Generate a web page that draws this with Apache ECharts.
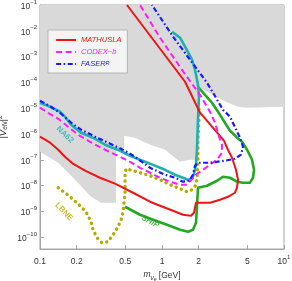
<!DOCTYPE html>
<html><head><meta charset="utf-8">
<script src="https://cdn.jsdelivr.net/npm/echarts@6/dist/echarts.min.js"></script>
<style>html,body{margin:0;padding:0;background:#fff}#c{width:292px;height:281px}</style>
</head><body><div id="c"></div>
<script>
const massTicks = [0.1, 0.2, 0.5, 1, 2, 5, 10];
const couplingTicks = [1e-10, 1e-9, 1e-8, 1e-7, 1e-6, 1e-5, 1e-4, 1e-3, 1e-2, 1e-1];

const excludedRegion = [
  [0.1, 0.1], [10, 0.1], [10, 1.14e-5], [4.98, 1.05e-5], [4.2, 1.14e-5], [3.47, 1.63e-5],
  [2.88, 2.55e-5], [2.05, 6.2e-5], [1.97, 3.3e-5], [1.94, 1.0e-7], [1.7, 1.0e-7],
  [1.4, 8.4e-8], [1.06, 2.46e-7], [0.8, 3.85e-7], [0.6, 7.2e-7], [0.49, 8.6e-7],
  [0.49, 2.94e-7], [0.42, 2.46e-7], [0.42, 2.17e-9], [0.316, 2.17e-9], [0.262, 3.7e-9],
  [0.194, 1.69e-8], [0.141, 7.7e-8], [0.11, 1.58e-7], [0.1, 2.06e-7]
];

const mathusla = [
  [0.1, 7.9e-7], [0.121, 4.6e-7], [0.141, 2.46e-7], [0.16, 1.32e-7], [0.186, 7.1e-8],
  [0.234, 3.8e-8], [0.31, 2.02e-8], [0.412, 1.19e-8], [0.578, 5.3e-9], [0.798, 2.38e-9],
  [0.963, 1.66e-9], [1.232, 1.06e-9], [1.486, 7.45e-10], [1.729, 6.8e-10], [1.829, 8.9e-10],
  [1.899, 2.17e-9], [1.972, 2.38e-9], [2.473, 2.17e-9], [2.99, 2.84e-9], [3.47, 3.7e-9],
  [3.96, 5.3e-9], [4.12, 8.3e-9], [4.2, 1.69e-8], [4.04, 4.1e-8], [3.75, 1.21e-7],
  [3.47, 2.46e-7], [3.22, 5.5e-7], [2.05, 6.7e-6], [1.545, 1.06e-4], [0.516, 0.1]
];

const codexb = [
  [0.1, 1.05e-5], [0.116, 6.7e-6], [0.141, 3.9e-6], [0.17, 1.92e-6], [0.205, 9.4e-7],
  [0.257, 5.0e-7], [0.341, 2.46e-7], [0.435, 1.44e-7], [0.547, 8.4e-8], [0.66, 4.9e-8],
  [0.798, 3.16e-8], [0.963, 2.02e-8], [1.164, 1.42e-8], [1.405, 1.08e-8], [1.603, 1.08e-8],
  [1.795, 2.02e-8], [1.935, 2.89e-8], [2.167, 4.1e-8], [2.473, 6.5e-8], [2.825, 1.01e-7],
  [3.1, 1.88e-7], [3.1, 3.85e-7], [2.934, 7.9e-7], [2.72, 2.74e-6], [2.473, 7.3e-6],
  [2.047, 3.3e-5], [1.513, 2.38e-4], [0.963, 5.4e-3], [0.66, 0.1]
];

const faser = [
  [0.1, 1.95e-5], [0.123, 1.14e-5], [0.149, 6.1e-6], [0.18, 2.74e-6], [0.217, 1.47e-6],
  [0.282, 7.9e-7], [0.361, 4.6e-7], [0.461, 2.69e-7], [0.601, 1.32e-7], [0.798, 4.9e-8],
  [1.058, 2.64e-8], [1.279, 2.02e-8], [1.486, 1.42e-8], [1.664, 1.55e-8], [1.795, 2.64e-8],
  [1.864, 5.9e-8], [1.972, 7.7e-8], [2.473, 7.7e-8], [3.28, 9.2e-8], [3.96, 1.1e-7],
  [4.44, 1.58e-7], [4.61, 3.22e-7], [4.36, 7.2e-7], [3.61, 4.7e-6], [3.16, 8.7e-6],
  [2.618, 4.0e-5], [2.338, 9.7e-5], [1.697, 7.6e-4], [1.232, 5.9e-3], [0.828, 0.1]
];

const na62 = [
  [0.1, 1.63e-5], [0.121, 1.14e-5], [0.146, 7.3e-6], [0.16, 4.7e-6], [0.18, 2.29e-6],
  [0.217, 1.12e-6], [0.282, 6.6e-7], [0.341, 3.85e-7], [0.453, 2.25e-7], [0.547, 1.44e-7],
  [0.66, 1.0e-7], [0.798, 7.1e-8], [1.058, 4.1e-8], [1.279, 2.64e-8], [1.486, 2.02e-8],
  [1.633, 1.69e-8], [1.762, 1.85e-8], [1.829, 2.89e-8], [1.899, 6.5e-8], [1.935, 2.46e-7],
  [1.972, 3.6e-6], [2.009, 2.79e-5], [1.972, 8.1e-5], [1.864, 3.1e-4], [1.762, 7.6e-4],
  [1.545, 2.42e-3], [1.405, 5.4e-3], [1.208, 9.2e-3]
];

const lbne = [
  [0.141, 8.3e-9], [0.16, 5.3e-9], [0.18, 3.4e-9], [0.213, 1.66e-9], [0.238, 9.7e-10],
  [0.262, 4.0e-10], [0.272, 1.95e-10], [0.293, 9.6e-11], [0.322, 6.1e-11], [0.361, 6.7e-11],
  [0.397, 1.25e-10], [0.435, 2.55e-10], [0.461, 4.4e-10], [0.479, 9.7e-10], [0.488, 2.17e-9],
  [0.498, 5.3e-9], [0.498, 1.3e-8], [0.498, 2.64e-8], [0.507, 4.5e-8], [0.578, 3.8e-8],
  [0.66, 3.16e-8], [0.798, 2.42e-8], [0.963, 1.69e-8], [1.164, 1.08e-8], [1.405, 7.6e-9],
  [1.603, 5.8e-9], [1.762, 6.9e-9], [1.864, 9.1e-9], [1.935, 1.69e-8], [1.972, 1.01e-7],
  [1.972, 6.0e-7], [2.009, 3.6e-6], [2.009, 1.14e-5]
];

const ship = [
  [1.972, 6.8e-5], [2.25, 3.3e-5], [2.569, 1.63e-5], [2.879, 7.3e-6], [3.16, 3.6e-6],
  [3.61, 1.34e-6], [4.12, 7.2e-7], [4.53, 5.0e-7], [4.98, 2.46e-7], [5.47, 1.01e-7],
  [5.68, 4.1e-8], [5.57, 2.02e-8], [5.26, 1.3e-8], [4.61, 1.3e-8], [4.12, 1.42e-8],
  [3.61, 2.02e-8], [3.16, 2.21e-8], [2.825, 1.55e-8], [2.338, 9.9e-9], [1.972, 8.3e-9],
  [1.935, 1.52e-9], [1.899, 3.65e-10], [1.795, 1.95e-10], [1.633, 1.63e-10], [1.405, 1.95e-10],
  [1.099, 3.05e-10], [0.844, 4.8e-10], [0.66, 7.45e-10], [0.498, 1.52e-9]
];

const curveLabels = [
  { text: 'NA62', at: [0.16, 9.4e-7], rotate: -43, color: '#1fb0b0', italic: false },
  { text: 'LBNE', at: [0.157, 9.7e-10], rotate: -46, color: '#b3ab00', italic: false },
  { text: 'SHiP', at: [0.8, 4.0e-10], rotate: -28, color: '#22a822', italic: true }
];

const FONT = 'Liberation Sans';
const C = {
  red: '#f01414', magenta: '#ff1aff', blue: '#1a1aff', teal: '#1fb0b0',
  olive: '#b3ab00', green: '#22a822', gray: '#d9d9d9', frame: '#a6a6a6'
};

function supExp(v) {
  const e = Math.round(Math.log10(v));
  return '{b|10}{s|' + (e < 0 ? '\u2212' + (-e) : e) + '}';
}

const hiddenSymbol = { color: 'rgba(0,0,0,0)', borderColor: 'rgba(0,0,0,0)', borderWidth: 0, opacity: 0 };

const chart = echarts.init(document.getElementById('c'), null, { renderer: 'canvas' });
chart.setOption({
  animation: false,
  backgroundColor: '#ffffff',
  grid: {
    left: 40, right: 8, top: 5, bottom: 32, show: true, borderColor: C.frame, borderWidth: 1,
    containLabel: false, outerBoundsMode: 'none'
  },
  xAxis: {
    type: 'log', logBase: 10, min: 0.1, max: 10,
    axisLine: { show: true, lineStyle: { color: C.frame, width: 1 } },
    axisTick: { show: true, inside: true, length: 4, lineStyle: { color: C.frame }, customValues: massTicks },
    splitLine: { show: false },
    axisLabel: {
      customValues: massTicks, margin: 5, color: '#333', fontFamily: FONT, fontSize: 8.5,
      formatter: function (v) {
        const r = +(+v).toPrecision(6);
        return r >= 9.99 ? '{b|10}{s|1}' : '{b|' + r + '}';
      },
      rich: {
        b: { fontFamily: FONT, fontSize: 8.5, lineHeight: 12, verticalAlign: 'bottom', color: '#333' },
        s: { fontFamily: FONT, fontSize: 6, lineHeight: 7, verticalAlign: 'top', color: '#333' }
      }
    },
    name: '{i|m}{sub|\u03bd}{ss|e} [GeV]', nameLocation: 'middle', nameGap: 21, nameMoveOverlap: false,
    nameTextStyle: {
      color: '#333', fontFamily: FONT, fontSize: 8.5,
      rich: {
        i: { fontFamily: FONT, fontSize: 8.5, fontStyle: 'italic', color: '#333', lineHeight: 12, verticalAlign: 'top' },
        sub: { fontFamily: FONT, fontSize: 6.5, fontStyle: 'italic', color: '#333', lineHeight: 8, verticalAlign: 'bottom' },
        ss: { fontFamily: FONT, fontSize: 5, fontStyle: 'italic', color: '#333', lineHeight: 6, verticalAlign: 'bottom' }
      }
    }
  },
  yAxis: {
    type: 'log', logBase: 10, min: 3.5e-11, max: 0.1,
    axisLine: { show: true, lineStyle: { color: C.frame, width: 1 } },
    axisTick: { show: true, inside: true, length: 4, lineStyle: { color: C.frame }, customValues: couplingTicks },
    splitLine: { show: false },
    axisLabel: {
      customValues: couplingTicks, margin: 3, color: '#333', fontFamily: FONT, fontSize: 8.5,
      formatter: supExp,
      rich: {
        b: { fontFamily: FONT, fontSize: 8.5, lineHeight: 12, verticalAlign: 'bottom', color: '#333' },
        s: { fontFamily: FONT, fontSize: 6, lineHeight: 7, verticalAlign: 'top', color: '#333' }
      }
    },
    name: '{n||}{i|V}{sub|eN}{n||}{sup|2}', nameLocation: 'middle', nameRotate: 90, nameGap: 31,
    nameMoveOverlap: false,
    nameTextStyle: {
      color: '#333', fontFamily: FONT, fontSize: 9.5,
      rich: {
        n: { fontFamily: FONT, fontSize: 9.5, color: '#333', lineHeight: 12, verticalAlign: 'middle' },
        i: { fontFamily: FONT, fontSize: 9.5, fontStyle: 'italic', color: '#333', lineHeight: 12, verticalAlign: 'middle' },
        sub: { fontFamily: FONT, fontSize: 6.5, fontStyle: 'italic', color: '#333', lineHeight: 8, verticalAlign: 'bottom' },
        sup: { fontFamily: FONT, fontSize: 6.5, color: '#333', lineHeight: 8, verticalAlign: 'top' }
      }
    }
  },
  legend: {
    left: 48, top: 30, orient: 'vertical',
    backgroundColor: '#f4f4f4', borderColor: '#b5b5b5', borderWidth: 1,
    padding: [6, 6, 5, 7], itemGap: 4, itemWidth: 20, itemHeight: 8,
    itemStyle: hiddenSymbol,
    textStyle: {
      fontFamily: FONT, fontSize: 7.5, fontStyle: 'italic',
      rich: { sup: { fontFamily: FONT, fontSize: 5.5, fontStyle: 'italic', color: C.blue, verticalAlign: 'top', lineHeight: 6 } }
    },
    formatter: function (n) { return n === 'FASER' ? 'FASER{sup|R}' : n; },
    data: [
      { name: 'MATHUSLA', textStyle: { color: C.red }, itemStyle: hiddenSymbol,
        lineStyle: { color: C.red, width: 2, type: 'solid' } },
      { name: 'CODEX\u2212b', textStyle: { color: C.magenta }, itemStyle: hiddenSymbol,
        lineStyle: { color: C.magenta, width: 2, type: [6, 3.5] } },
      { name: 'FASER', textStyle: { color: C.blue }, itemStyle: hiddenSymbol,
        lineStyle: { color: C.blue, width: 2.2, type: [5, 2.5, 1.6, 2.5] } }
    ]
  },
  series: [
    {
      type: 'custom', name: 'excluded', silent: true, z: 1,
      data: excludedRegion,
      renderItem: function (params, api) {
        if (params.dataIndex !== 0) return null;
        const pts = excludedRegion.map(function (p) { return api.coord(p); });
        return { type: 'polygon', shape: { points: pts }, style: { fill: C.gray } };
      }
    },
    {
      type: 'line', name: 'LBNE', data: lbne, symbol: 'none', z: 3, silent: true,
      lineStyle: { color: C.olive, width: 3.4, type: [0.1, 5.4], cap: 'round' }
    },
    {
      type: 'line', name: 'SHiP', data: ship, symbol: 'none', z: 3, silent: true,
      lineStyle: { color: C.green, width: 2.6, join: 'round' }
    },
    {
      type: 'line', name: 'NA62', data: na62, symbol: 'none', z: 3, silent: true,
      lineStyle: { color: C.teal, width: 2.6, join: 'round' }
    },
    {
      type: 'line', name: 'MATHUSLA', data: mathusla, symbol: 'none', z: 4, silent: true,
      lineStyle: { color: C.red, width: 2, join: 'round' }
    },
    {
      type: 'line', name: 'CODEX\u2212b', data: codexb, symbol: 'none', z: 4, silent: true,
      lineStyle: { color: C.magenta, width: 2, type: [6, 3.5] }
    },
    {
      type: 'line', name: 'FASER', data: faser, symbol: 'none', z: 5, silent: true,
      lineStyle: { color: C.blue, width: 2.2, type: [5, 2.5, 1.6, 2.5] }
    },
    {
      type: 'scatter', name: 'labels', symbolSize: 0, z: 6, silent: true,
      data: curveLabels.map(function (l) {
        return {
          value: l.at,
          label: {
            show: true, position: 'inside', formatter: l.text, rotate: l.rotate,
            color: l.color, fontFamily: FONT, fontSize: 8, fontWeight: 'bold',
            fontStyle: l.italic ? 'italic' : 'normal'
          }
        };
      })
    }
  ]
});
</script></body></html>
